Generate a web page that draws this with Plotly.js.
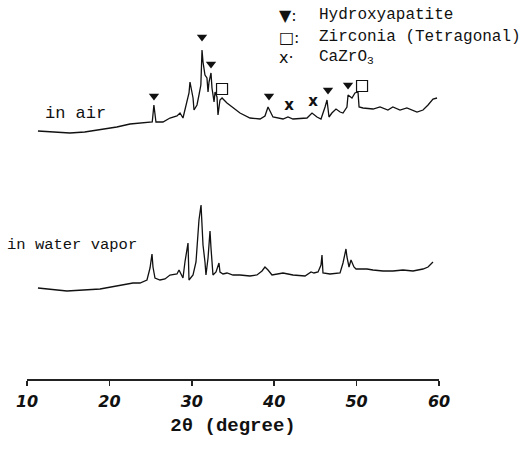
<!DOCTYPE html>
<html>
<head>
<meta charset="utf-8">
<script src="https://cdn.plot.ly/plotly-3.0.1.min.js"></script>
<style>html,body{margin:0;padding:0;background:#fff;}#chart{width:522px;height:451px;}</style>
</head>
<body>
<div id="chart"></div>
<script>
// ---- data (2θ in degrees, intensity in arbitrary units above each pattern's baseline) ----
const airTheta = [11.33,13.4,15.2,17.0,19.2,20.9,22.5,24.3,25.2,25.4,25.65,26.5,27.35,28.2,28.57,28.93,29.3,29.66,29.78,30.15,30.27,30.63,30.87,31.1,31.24,31.36,31.6,31.84,31.97,32.09,32.33,32.45,32.7,32.82,33.06,33.18,33.42,33.67,34.27,35.0,35.85,37.06,38.28,38.88,39.25,39.85,41.07,41.67,42.28,43.98,44.59,45.19,45.68,46.17,46.41,46.65,47.0,47.5,48.0,48.35,48.83,48.96,49.44,49.8,50.17,50.3,50.78,52.0,52.84,53.8,54.4,55.27,56.1,57.33,58.06,58.67,59.27,59.76];
const airCounts = [4,3,2,3,6,8,11,12.5,13,30,13,13,17,19,22,17,30,42,53,37,25,30,40,50,85,73,60,57,43,53,62,47,33,43,38,20,35,37,32,27,22,17,16,19,28,18,16,18,16,17,22,18,16,28,35,18,22,26,23,22,28,40,37,42,43,28,27,26,28,25,28,25,27,23,25,30,36,37];

const vaporTheta = [11.33,14.85,18.86,22.86,23.71,24.56,24.93,25.17,25.29,25.53,26.14,26.75,27.35,28.2,28.45,28.81,28.93,29.17,29.42,29.54,29.66,29.9,30.15,30.51,30.63,30.87,31.12,31.24,31.36,31.6,31.72,31.97,32.09,32.21,32.33,32.45,32.57,32.94,33.3,33.42,33.79,34.27,35.0,35.85,37.06,37.91,38.52,38.88,39.25,39.73,41.07,42.28,43.74,44.47,44.83,45.32,45.68,45.8,45.92,46.77,47.99,48.35,48.59,48.71,48.83,49.08,49.32,49.44,49.68,49.93,50.41,51.26,51.99,53.2,54.42,55.63,56.84,58.06,58.67,59.27];
const vaporCounts = [7,4,6,12,12,15,27,41,28,17,15,16,20,21,25,20,17,33,47,52,15,18,20,33,50,75,90,70,50,33,20,37,50,64,47,30,20,23,32,23,21,22,20,20,19,20,24,28,25,20,22,20,19,23,22,23,30,40,22,21,22,32,42,46,38,28,35,32,28,26,26,26,25,24,24,25,24,26,28,33];

// phase identification marks (above the "in air" pattern)
const haTheta = [25.41,31.24,32.33,39.37,46.53,48.96];
const haCounts = [39,98,71,39,45,50];
const zrTheta = [33.67,50.66];
const zrCounts = [46,49];
const czTheta = [41.8,44.71];
const czCounts = [29,33];

const tickVals = [10,20,30,40,50,60];
const phaseNames = ['Hydroxyapatite','Zirconia (Tetragonal)','CaZrO<sub>3</sub>'];
const phaseSymbols = ['▼:','□:','x·'];
const sampleNames = ['in air','in water vapor'];

// ---- presentation ----
const AIR_OFFSET = 244, VAPOR_OFFSET = 84;
const shift = (arr, off) => arr.map(v => v + off);
const ink = '#111';
const mono = 'Liberation Mono, DejaVu Sans Mono, monospace';

const traces = [
  {x: airTheta, y: shift(airCounts, AIR_OFFSET), mode: 'lines', line: {color: ink, width: 1.3}, hoverinfo: 'skip'},
  {x: vaporTheta, y: shift(vaporCounts, VAPOR_OFFSET), mode: 'lines', line: {color: ink, width: 1.3}, hoverinfo: 'skip'},
  {x: haTheta, y: shift(haCounts, AIR_OFFSET), mode: 'markers', marker: {symbol: 'triangle-down', size: 9, color: ink}, cliponaxis: false},
  {x: zrTheta, y: shift(zrCounts, AIR_OFFSET), mode: 'markers', marker: {symbol: 'square-open', size: 11, color: ink, line: {width: 1.2}}, cliponaxis: false},
  {x: czTheta, y: shift(czCounts, AIR_OFFSET), mode: 'text', text: czTheta.map(() => 'x'), textfont: {family: 'DejaVu Sans, sans-serif', size: 15, color: ink, weight: 'bold'}, cliponaxis: false}
];

const pxX = px => (px - 27) / 412;
const pxY = py => (379 - py) / 379;
const annotations = [];
const rowsY = [15, 37, 57];
phaseNames.forEach((n, i) => {
  annotations.push({xref: 'paper', yref: 'paper', x: pxX(277), y: pxY(rowsY[i]), xanchor: 'left', yanchor: 'middle', showarrow: false, text: phaseSymbols[i], font: {family: 'DejaVu Sans, sans-serif', size: 16, color: ink}});
  annotations.push({xref: 'paper', yref: 'paper', x: pxX(317), y: pxY(rowsY[i]), xanchor: 'left', yanchor: 'middle', showarrow: false, text: n, font: {family: mono, size: 16, color: ink}});
});
annotations.push({xref: 'paper', yref: 'paper', x: pxX(43), y: pxY(113), xanchor: 'left', yanchor: 'middle', showarrow: false, text: sampleNames[0], font: {family: mono, size: 17, color: ink}});
annotations.push({xref: 'paper', yref: 'paper', x: pxX(5), y: pxY(245), xanchor: 'left', yanchor: 'middle', showarrow: false, text: sampleNames[1], font: {family: mono, size: 15.5, color: ink}});

const layout = {
  width: 522, height: 451,
  margin: {l: 27, r: 83, t: 0, b: 72, pad: 0},
  paper_bgcolor: '#fff', plot_bgcolor: '#fff',
  showlegend: false,
  xaxis: {
    range: [10, 60], tickvals: tickVals, ticktext: tickVals.map(String),
    showline: true, linecolor: '#222', linewidth: 1.5,
    ticks: 'outside', ticklen: 5, tickwidth: 1.5, tickcolor: '#222',
    ticklabelstandoff: 2,
    tickfont: {family: 'DejaVu Sans, sans-serif', size: 16, color: ink, weight: 'bold', style: 'italic'},
    showgrid: false, zeroline: false, fixedrange: true,
    title: {text: '2θ (degree)', font: {family: mono, size: 19, color: ink, weight: 'bold'}, standoff: 8}
  },
  yaxis: {range: [0, 379], visible: false, fixedrange: true},
  annotations: annotations
};

Plotly.newPlot('chart', traces, layout, {staticPlot: true, displayModeBar: false});
</script>
</body>
</html>
